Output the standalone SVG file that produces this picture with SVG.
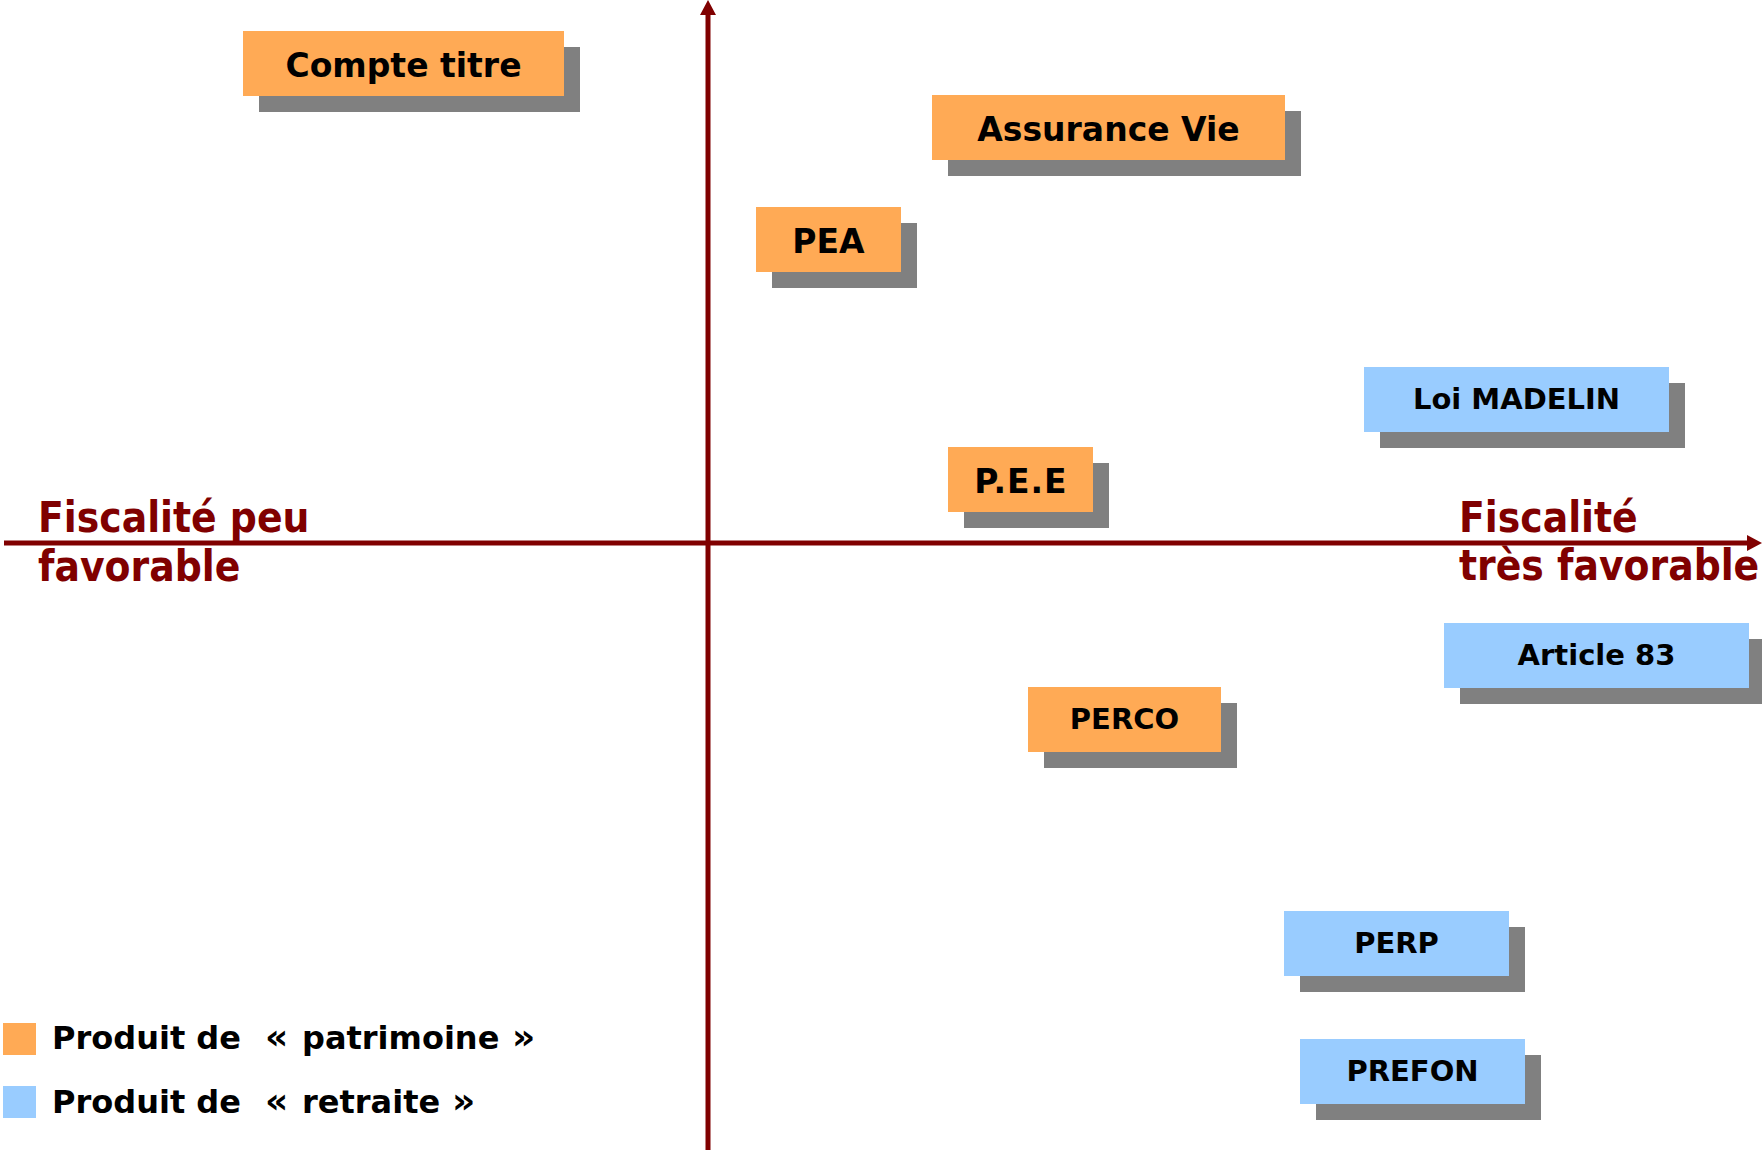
<svg xmlns="http://www.w3.org/2000/svg" width="1762" height="1150" viewBox="0 0 1762 1150">
  <style>
    .shadow { fill: #808080; }
    .pat { fill: #FFAA55; }
    .ret { fill: #99CCFF; }
    .lbl { font-family: "DejaVu Sans", Verdana, sans-serif; font-weight: bold; fill: #000000; text-anchor: middle; }
    .big { font-size: 33px; }
    .small { font-size: 29px; }
    .axis { stroke: #800000; stroke-width: 5; fill: none; }
    .axlbl { font-family: "DejaVu Sans Condensed", "DejaVu Sans", Tahoma, sans-serif; font-stretch: condensed; font-weight: bold; font-size: 42px; fill: #800000; }
    .leg { font-family: "DejaVu Sans", Verdana, sans-serif; font-weight: bold; font-size: 32px; fill: #000000; }
    .gui { font-size: 36px; }
  </style>
  <defs>
    <marker id="arrow" markerUnits="userSpaceOnUse" markerWidth="16" markerHeight="16" viewBox="0 0 16 16" refX="0" refY="8" orient="auto">
      <path d="M0,0 L15,8 L0,16 z" fill="#800000"/>
    </marker>
  </defs>
  <rect width="1762" height="1150" fill="#FFFFFF"/>

  <g id="connectors">
    <line class="axis" x1="708" y1="1150" x2="708" y2="15" marker-end="url(#arrow)"/>
    <line class="axis" x1="4" y1="543" x2="1747" y2="543" marker-end="url(#arrow)"/>
  </g>

  <g id="axis-labels">
    <text class="axlbl" x="38" y="532">Fiscalité peu</text>
    <text class="axlbl" x="38" y="581">favorable</text>
    <text class="axlbl" x="1459" y="532">Fiscalité</text>
    <text class="axlbl" x="1459" y="580">très favorable</text>
  </g>

  <g id="compte-titre">
    <rect class="shadow" x="259" y="47" width="321" height="65"/>
    <rect class="pat" x="243" y="31" width="321" height="65"/>
    <text class="lbl big" x="403.5" y="76.5">Compte titre</text>
  </g>

  <g id="assurance-vie">
    <rect class="shadow" x="948" y="111" width="353" height="65"/>
    <rect class="pat" x="932" y="95" width="353" height="65"/>
    <text class="lbl big" x="1108.5" y="140.5">Assurance Vie</text>
  </g>

  <g id="pea">
    <rect class="shadow" x="772" y="223" width="145" height="65"/>
    <rect class="pat" x="756" y="207" width="145" height="65"/>
    <text class="lbl big" x="828.5" y="252.5">PEA</text>
  </g>

  <g id="loi-madelin">
    <rect class="shadow" x="1380" y="383" width="305" height="65"/>
    <rect class="ret" x="1364" y="367" width="305" height="65"/>
    <text class="lbl small" x="1516.5" y="408.5">Loi MADELIN</text>
  </g>

  <g id="pee">
    <rect class="shadow" x="964" y="463" width="145" height="65"/>
    <rect class="pat" x="948" y="447" width="145" height="65"/>
    <text class="lbl big" x="1021" y="492.5" letter-spacing="1">P.E.E</text>
  </g>

  <g id="article-83">
    <rect class="shadow" x="1460" y="639" width="305" height="65"/>
    <rect class="ret" x="1444" y="623" width="305" height="65"/>
    <text class="lbl small" x="1596.5" y="664.5">Article 83</text>
  </g>

  <g id="perco">
    <rect class="shadow" x="1044" y="703" width="193" height="65"/>
    <rect class="pat" x="1028" y="687" width="193" height="65"/>
    <text class="lbl small" x="1124.5" y="728.5">PERCO</text>
  </g>

  <g id="perp">
    <rect class="shadow" x="1300" y="927" width="225" height="65"/>
    <rect class="ret" x="1284" y="911" width="225" height="65"/>
    <text class="lbl small" x="1396.5" y="952.5">PERP</text>
  </g>

  <g id="prefon">
    <rect class="shadow" x="1316" y="1055" width="225" height="65"/>
    <rect class="ret" x="1300" y="1039" width="225" height="65"/>
    <text class="lbl small" x="1412.5" y="1080.5">PREFON</text>
  </g>

  <g id="legend">
    <rect class="pat" x="3" y="1023" width="33" height="32"/>
    <text class="leg" y="1049" xml:space="preserve"><tspan x="52">Produit de </tspan><tspan class="gui" x="265">« </tspan><tspan x="302">patrimoine </tspan><tspan class="gui" x="512">»</tspan></text>
    <rect class="ret" x="3" y="1086" width="33" height="32"/>
    <text class="leg" y="1113" xml:space="preserve"><tspan x="52">Produit de </tspan><tspan class="gui" x="265">« </tspan><tspan x="302">retraite </tspan><tspan class="gui" x="452">»</tspan></text>
  </g>
</svg>
